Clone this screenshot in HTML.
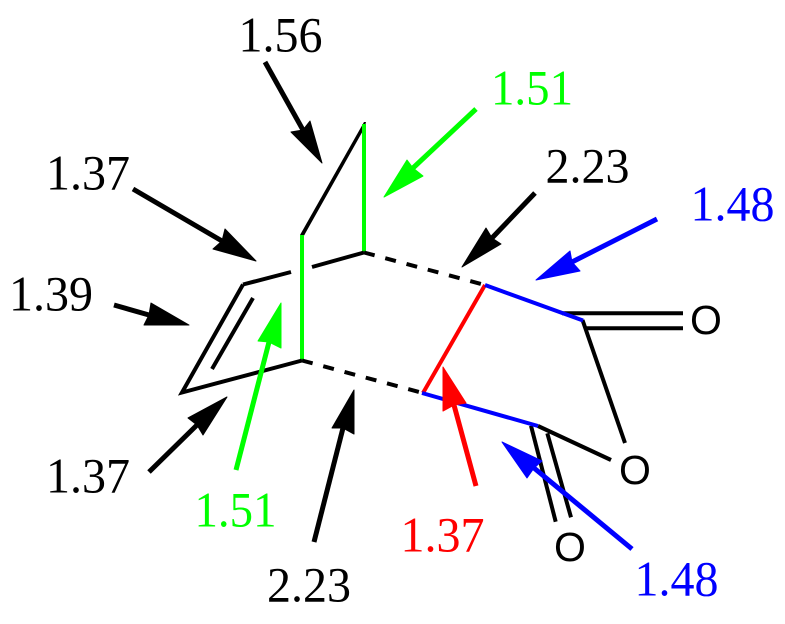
<!DOCTYPE html>
<html>
<head>
<meta charset="utf-8">
<style>
html,body{margin:0;padding:0;background:#fff;width:785px;height:624px;overflow:hidden}
svg{display:block}
.n{font-family:"Liberation Serif",serif;font-size:50px}
.o{font-family:"Liberation Sans",sans-serif;font-size:41px;fill:#000}
line{stroke-width:4;stroke-linecap:butt}
.k{stroke:#000}.g{stroke:#00ff00}.b{stroke:#0000ff}.r{stroke:#ff0000}
.a{stroke-width:5}
</style>
</head>
<body>
<svg width="785" height="624" viewBox="0 0 785 624" xmlns="http://www.w3.org/2000/svg">
<rect width="785" height="624" fill="#fff"/>

<!-- molecule -->
<polygon points="364,122 366,122 364.5,128 303.8,236 300,235" fill="#000"/>
<line class="g" x1="364" y1="124" x2="364" y2="252"/>
<line class="g" x1="302" y1="235" x2="302" y2="360"/>
<line class="k" x1="312" y1="267" x2="364" y2="252.5"/>
<line class="k" x1="243" y1="284.5" x2="291" y2="272"/>
<polyline points="243,284.5 182,392.5 302,360.5" fill="none" stroke="#000" stroke-width="4" stroke-linejoin="miter" stroke-miterlimit="10"/>
<line class="k" x1="253" y1="298" x2="212" y2="369"/>
<line class="k" x1="302" y1="360.5" x2="423" y2="393" stroke-dasharray="11 11"/>
<line class="k" x1="364" y1="252.5" x2="485" y2="285" stroke-dasharray="11 11"/>
<line class="k" x1="562" y1="313.3" x2="683" y2="313.3"/>
<line class="k" x1="586" y1="328.3" x2="683" y2="328.3"/>
<line class="k" x1="582.5" y1="320" x2="625" y2="443"/>
<line class="k" x1="538" y1="426" x2="611" y2="460"/>
<line class="k" x1="531" y1="425.7" x2="555.7" y2="521.7"/>
<line class="k" x1="547.3" y1="433.3" x2="571" y2="517.3"/>
<line class="r" x1="485" y1="285" x2="423" y2="393"/>
<line class="b" x1="485" y1="285" x2="583" y2="320.5"/>
<line class="b" x1="422" y1="393" x2="538" y2="426"/>

<!-- arrows -->
<line class="k a" x1="265" y1="62" x2="303" y2="130"/>
<polygon points="322,163 291,132 303,130 310,121" fill="#000" stroke="#000" stroke-width="1" stroke-linejoin="round"/>

<line class="k a" x1="133" y1="189" x2="222" y2="241"/>
<polygon points="256,261 225,229 222,241 213,249" fill="#000" stroke="#000" stroke-width="1" stroke-linejoin="round"/>

<line class="k a" x1="114" y1="305" x2="149" y2="315"/>
<polygon points="189,325 151,303 149,315 144,325" fill="#000" stroke="#000" stroke-width="1" stroke-linejoin="round"/>

<line class="k a" x1="149" y1="472" x2="197" y2="425"/>
<polygon points="227,397 188,418 197,425 203,435" fill="#000" stroke="#000" stroke-width="1" stroke-linejoin="round"/>

<line class="g a" x1="236" y1="470" x2="269" y2="342"/>
<polygon points="281,303 258,341 269,342 281,348" fill="#00ff00" stroke="#00ff00" stroke-width="1" stroke-linejoin="round"/>

<line class="k a" x1="314" y1="542" x2="343" y2="428"/>
<polygon points="354,390 332,428 343,428 354,434" fill="#000" stroke="#000" stroke-width="1" stroke-linejoin="round"/>

<line class="r a" x1="476" y1="486" x2="454" y2="405"/>
<polygon points="443,367 466,403 454,405 443,411" fill="#ff0000" stroke="#ff0000" stroke-width="1" stroke-linejoin="round"/>

<line class="b a" x1="632" y1="549" x2="534" y2="468"/>
<polygon points="502,442 542,461 534,468 527,478" fill="#0000ff" stroke="#0000ff" stroke-width="1" stroke-linejoin="round"/>

<line class="b a" x1="657" y1="219" x2="572" y2="262"/>
<polygon points="536,280 570,251 572,262 580,271" fill="#0000ff" stroke="#0000ff" stroke-width="1" stroke-linejoin="round"/>

<line class="k a" x1="535" y1="193" x2="492" y2="238"/>
<polygon points="462,267 486,228 492,238 501,244" fill="#000" stroke="#000" stroke-width="1" stroke-linejoin="round"/>

<line class="g a" x1="476" y1="109" x2="413" y2="168"/>
<polygon points="384,197 407,160 413,168 423,176" fill="#00ff00" stroke="#00ff00" stroke-width="1" stroke-linejoin="round"/>

<!-- labels -->
<text class="n" x="238.5" y="51.5" fill="#000" textLength="84" lengthAdjust="spacingAndGlyphs">1.56</text>
<text class="n" x="46" y="189.5" fill="#000" textLength="84" lengthAdjust="spacingAndGlyphs">1.37</text>
<text class="n" x="9" y="310.5" fill="#000" textLength="84" lengthAdjust="spacingAndGlyphs">1.39</text>
<text class="n" x="491" y="104.5" fill="#00ff00" textLength="82" lengthAdjust="spacingAndGlyphs">1.51</text>
<text class="n" x="545.5" y="182.5" fill="#000" textLength="84" lengthAdjust="spacingAndGlyphs">2.23</text>
<text class="n" x="690.5" y="220.5" fill="#0000ff" textLength="84" lengthAdjust="spacingAndGlyphs">1.48</text>
<text class="n" x="46" y="492.5" fill="#000" textLength="84" lengthAdjust="spacingAndGlyphs">1.37</text>
<text class="n" x="194.5" y="526.5" fill="#00ff00" textLength="82" lengthAdjust="spacingAndGlyphs">1.51</text>
<text class="n" x="267" y="601.5" fill="#000" textLength="84" lengthAdjust="spacingAndGlyphs">2.23</text>
<text class="n" x="400.5" y="551.5" fill="#ff0000" textLength="84" lengthAdjust="spacingAndGlyphs">1.37</text>
<text class="n" x="634.5" y="595.5" fill="#0000ff" textLength="84" lengthAdjust="spacingAndGlyphs">1.48</text>
<text class="o" x="690" y="334">O</text>
<text class="o" x="619" y="484">O</text>
<text class="o" x="554" y="561">O</text>
</svg>
</body>
</html>
